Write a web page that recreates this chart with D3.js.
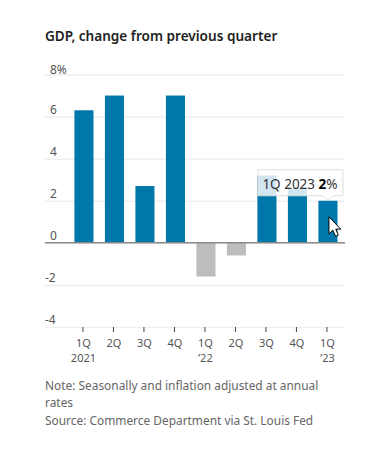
<!DOCTYPE html>
<html>
<head>
<meta charset="utf-8">
<script src="https://cdn.jsdelivr.net/npm/d3@7"></script>
<style>
  html, body { margin: 0; padding: 0; background: #fff; }
  svg { display: block; }
  text { font-family: "Noto Sans", sans-serif; }
</style>
</head>
<body>
<div id="chart"></div>
<script>
const quarters = ["1Q", "2Q", "3Q", "4Q", "1Q", "2Q", "3Q", "4Q", "1Q"];
const years = ["2021", "", "", "", "\u201922", "", "", "", "\u201923"];
const gdpChange = [6.3, 7.0, 2.7, 7.0, -1.6, -0.6, 3.2, 2.6, 2.0];
const yTicks = [8, 6, 4, 2, 0, -2, -4];
const noteLines = [
    "Note: Seasonally and inflation adjusted at annual",
    "rates",
    "Source: Commerce Department via St. Louis Fed"
];

const width = 369;
const height = 450;
const ids = d3.range(gdpChange.length);

const xScaler = d3.scaleBand(ids, [68.7, 343.2]).paddingInner(0.375).paddingOuter(0.1875);
const yScaler = d3.scaleLinear([-4, 8], [327, 74.5]);

const svg = d3.select("#chart")
    .append("svg")
    .attr("width", width)
    .attr("height", height);

svg.append("text")
    .attr("x", 45)
    .attr("y", 41)
    .attr("font-size", 13.6)
    .attr("font-weight", 600)
    .attr("fill", "#222")
    .text("GDP, change from previous quarter");

// Gridlines and y labels
const yAxis = svg.append("g")
    .attr("transform", "translate(345,0)")
    .call(d3.axisLeft(yScaler).tickValues(yTicks).tickSize(300).tickFormat(d => d === 8 ? "8%" : d));

yAxis.select(".domain").remove();
yAxis.selectAll("line").attr("stroke", "#efefef").attr("stroke-width", 1.5);
yAxis.selectAll("text")
    .attr("x", -300)
    .attr("dy", d => d === 8 ? -1.5 : -3.5)
    .attr("text-anchor", "start")
    .attr("font-size", 12)
    .attr("fill", "#555");
yAxis.selectAll(".tick").filter(d => d >= 0).select("text").attr("x", -295);

// Bars
svg.selectAll("rect.bar")
    .data(ids)
    .enter()
    .append("rect")
    .attr("class", "bar")
    .attr("x", i => xScaler(i))
    .attr("y", i => yScaler(Math.max(0, gdpChange[i])))
    .attr("width", xScaler.bandwidth())
    .attr("height", i => Math.abs(yScaler(gdpChange[i]) - yScaler(0)))
    .attr("fill", i => gdpChange[i] < 0 ? "#bdbdbd" : "#0077aa");

// Zero line
svg.append("line")
    .attr("x1", 45)
    .attr("x2", 345)
    .attr("y1", yScaler(0))
    .attr("y2", yScaler(0))
    .attr("stroke", "#8a8a8a")
    .attr("stroke-width", 1.5);

// X axis
const xAxis = svg.append("g")
    .attr("transform", "translate(-1," + yScaler(-4) + ")")
    .call(d3.axisBottom(xScaler).tickSize(5).tickSizeOuter(0).tickFormat(""));

xAxis.select(".domain").remove();
xAxis.selectAll("line").attr("stroke", "#444");

const xLabels = xAxis.selectAll("text")
    .attr("y", 0)
    .attr("dy", 0)
    .attr("font-size", 11)
    .attr("fill", "#555");

xLabels.append("tspan").attr("x", 0.5).attr("y", 20).text(i => quarters[i]);
xLabels.append("tspan").attr("x", 0.5).attr("y", 35).text(i => years[i]);

// Note and source
svg.append("g")
    .selectAll("text")
    .data(noteLines)
    .enter()
    .append("text")
    .attr("x", 45)
    .attr("y", (d, i) => 389.5 + i * 17.5)
    .attr("font-size", 11.9)
    .attr("fill", "#666")
    .text(d => d);

// Tooltip on the last bar
const last = gdpChange.length - 1;
const tipX = xScaler(last) + xScaler.bandwidth() / 2;
const tipY = yScaler(gdpChange[last]);

const tip = svg.append("g").attr("transform", `translate(${tipX},${tipY})`);

tip.append("path")
    .attr("d", "M-70,-31 H15 V-5 H5 L0,0 L-5,-5 H-70 Z")
    .attr("fill", "#fff")
    .attr("fill-opacity", 0.82)
    .attr("stroke", "#ddd");

const tipText = tip.append("text")
    .attr("x", -28)
    .attr("y", -12)
    .attr("text-anchor", "middle")
    .attr("font-size", 13.5)
    .attr("fill", "#333");

tipText.append("tspan").text("1Q 2023 ");
tipText.append("tspan").attr("font-weight", 700).attr("fill", "#000").text("2");
tipText.append("tspan").text("%");

// Mouse pointer
tip.append("path")
    .attr("transform", "translate(1,16)")
    .attr("d", "M0,0 V17 L3.8,13.4 L6.6,19.6 L9.4,18.4 L6.8,12.4 H11.8 Z")
    .attr("fill", "#fff")
    .attr("stroke", "#000")
    .attr("stroke-width", 1);
</script>
</body>
</html>
